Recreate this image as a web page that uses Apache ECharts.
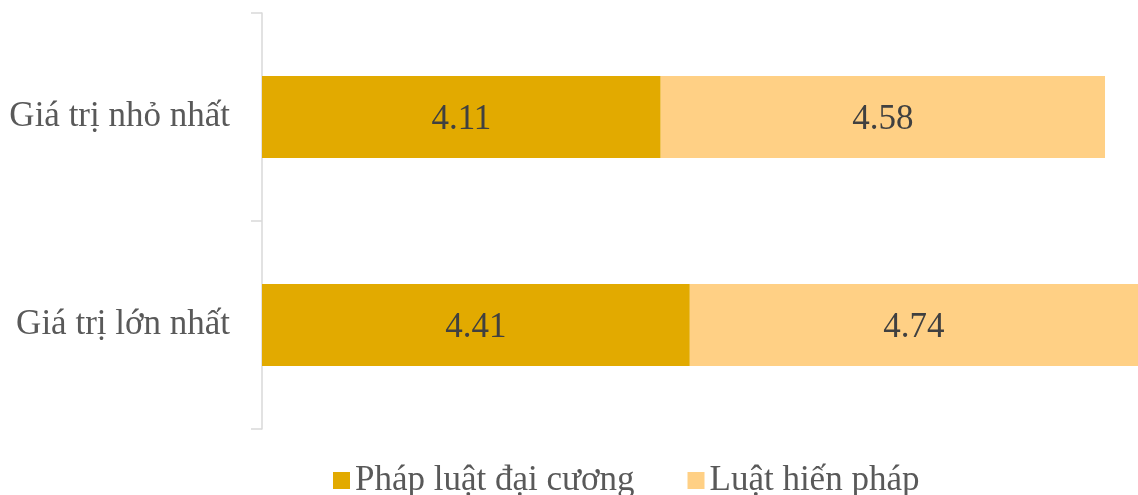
<!DOCTYPE html>
<html>
<head>
<meta charset="utf-8">
<script src="https://cdn.jsdelivr.net/npm/echarts@6/dist/echarts.min.js"></script>
<style>html,body{margin:0;padding:0;background:#fff}#c{width:1138px;height:495px}</style>
</head>
<body>
<div id="c"></div>
<script>
const categories = ["Giá trị nhỏ nhất", "Giá trị lớn nhất"];
const seriesNames = ["Pháp luật đại cương", "Luật hiến pháp"];
const phapLuatDaiCuong = [4.11, 4.41];
const luatHienPhap = [4.58, 4.74];

const font = "'Liberation Serif', 'DejaVu Serif', serif";
const chart = echarts.init(document.getElementById('c'), null, {renderer: 'canvas'});
chart.setOption({
  animation: false,
  backgroundColor: '#fff',
  textStyle: {fontFamily: font},
  grid: {left: 262, top: 13, bottom: 66, right: 0, containLabel: false},
  legend: {
    top: 458,
    left: 328,
    itemWidth: 17,
    itemHeight: 17,
    itemGap: 53,
    icon: 'rect',
    textStyle: {fontFamily: font, fontSize: 35, color: '#595959', lineHeight: 35},
    data: seriesNames
  },
  xAxis: {type: 'value', min: 0, max: 9.03, show: false},
  yAxis: {
    type: 'category',
    inverse: true,
    data: categories,
    axisLine: {show: true, lineStyle: {color: '#d9d9d9', width: 1.5}},
    axisTick: {show: true, length: 11, lineStyle: {color: '#d9d9d9', width: 1.5}},
    axisLabel: {fontFamily: font, fontSize: 35, color: '#595959', margin: 32, padding: [6, 0, 0, 0]}
  },
  series: [
    {
      name: seriesNames[0], type: 'bar', stack: 'a', data: phapLuatDaiCuong,
      barWidth: '39.5%',
      itemStyle: {color: '#E2AA00'},
      label: {show: true, position: 'inside', offset: [0, 3], fontFamily: font, fontSize: 35, color: '#404040'}
    },
    {
      name: seriesNames[1], type: 'bar', stack: 'a', data: luatHienPhap,
      barWidth: '39.5%',
      itemStyle: {color: '#FFD085'},
      label: {show: true, position: 'inside', offset: [0, 3], fontFamily: font, fontSize: 35, color: '#404040'}
    }
  ]
});
</script>
</body>
</html>
